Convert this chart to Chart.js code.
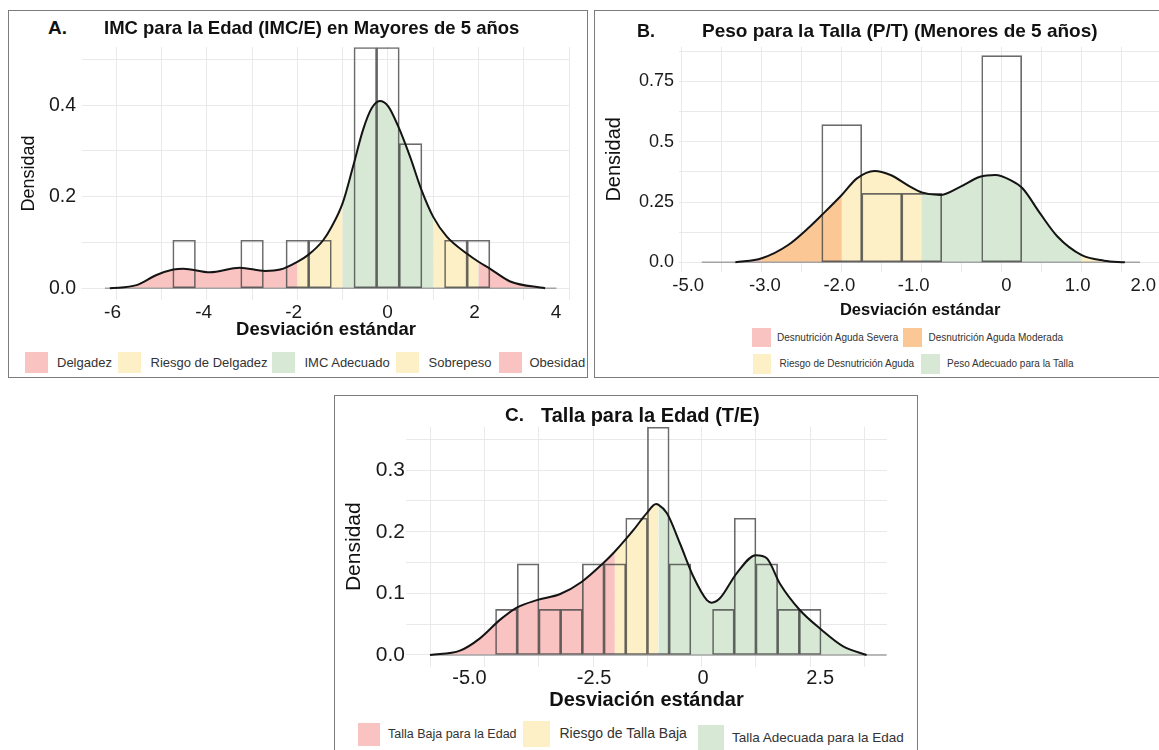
<!DOCTYPE html>
<html>
<head>
<meta charset="utf-8">
<script src="https://cdn.jsdelivr.net/npm/chart.js@4.4.1/dist/chart.umd.min.js"></script>
<style>
  body { margin: 0; width: 1159px; height: 750px; overflow: hidden; background: #fff; position: relative;
         font-family: "Liberation Sans", Arial, sans-serif; }
  .box { position: absolute; border: 1.5px solid #7c7c7c; box-sizing: border-box; }
  .t { position: absolute; white-space: nowrap; color: #111; line-height: 1.2; }
  .b { font-weight: bold; }
  .lg { position: absolute; white-space: nowrap; color: #333; line-height: 1.2; }
  .sw { position: absolute; }
  canvas { position: absolute; }
</style>
</head>
<body>

<div class="box" style="left:8px;top:10px;width:580px;height:368px"></div>
<div class="box" style="left:594px;top:10px;width:600px;height:368px"></div>
<div class="box" style="left:334px;top:395px;width:584px;height:400px"></div>

<canvas id="chartA" width="575" height="305" style="left:10px;top:40px"></canvas>
<canvas id="chartB" width="575" height="283" style="left:596px;top:40px"></canvas>
<canvas id="chartC" width="575" height="298" style="left:336px;top:420px"></canvas>

<div class="t b" style="left:48px;top:17px;font-size:19px">A.</div>
<div class="t b" style="left:104px;top:17px;font-size:18.5px">IMC para la Edad (IMC/E) en Mayores de 5 años</div>
<div class="t b" style="left:637px;top:21px;font-size:18px">B.</div>
<div class="t b" style="left:702px;top:20px;font-size:19px">Peso para la Talla (P/T) (Menores de 5 años)</div>
<div class="t b" style="left:505px;top:404px;font-size:19px">C.</div>
<div class="t b" style="left:541px;top:403px;font-size:20px">Talla para la Edad (T/E)</div>

<div id="legends"></div>

<script>
// colours of the classification bands
const RED = '#f8c3c1', YEL = '#fdf0c6', GRN = '#d7e9d5', ORA = '#fac795';

// ---------- A. IMC para la Edad ----------
const aBinX = [-4.5, -3, -2, -1.5, -0.5, 0, 0.5, 1.5, 2];
const aBinY = [0.105, 0.105, 0.105, 0.105, 0.526, 0.526, 0.316, 0.105, 0.105];
const aDensX = [-6.14, -5.55, -5.11, -4.74, -4.52, -3.93, -3.27, -2.71, -2.38, -2.0, -1.76, -1.43, -1.24, -1.0,
                -0.77, -0.55, -0.36, -0.18, 0.01, 0.23, 0.49, 0.74, 1.0, 1.3, 1.74, 2.0, 2.25, 2.7, 3.47];
const aDensY = [0, 0.007, 0.029, 0.041, 0.043, 0.035, 0.045, 0.038, 0.041, 0.058, 0.073, 0.105, 0.135, 0.186,
                0.266, 0.346, 0.393, 0.409, 0.397, 0.353, 0.287, 0.215, 0.156, 0.113, 0.076, 0.058, 0.043, 0.015, 0];
const aCuts = [-2, -1, 1, 2];
const aColors = [RED, YEL, GRN, YEL, RED];
const aLegend = ['Delgadez', 'Riesgo de Delgadez', 'IMC Adecuado', 'Sobrepeso', 'Obesidad'];
const aBase = [-6.25, 3.72];
const aXLabPos = [-6.08, -4.07, -2.08, -0.01, 1.91, 3.71];
const aXLabText = ['-6', '-4', '-2', '0', '2', '4'];
const aYLabVal = [0, 0.2, 0.4];
const aYLabText = ['0.0', '0.2', '0.4'];

// ---------- B. Peso para la Talla ----------
const bBinX = [-2, -1.5, -1, 0];
const bBinY = [0.571, 0.286, 0.286, 0.857];
const bDensX = [-3.33, -3.0, -2.67, -2.4, -2.25, -2.0, -1.81, -1.59, -1.39, -1.14, -1.0, -0.77, -0.52, -0.27,
                -0.08, 0.11, 0.26, 0.48, 0.7, 1.0, 1.28, 1.54];
const bDensY = [0, 0.017, 0.072, 0.148, 0.196, 0.279, 0.348, 0.379, 0.362, 0.313, 0.29, 0.279, 0.313, 0.355,
                0.362, 0.341, 0.307, 0.203, 0.106, 0.03, 0.007, 0];
const bCuts = [-3, -2, -1, 1];
const bColors = [RED, ORA, YEL, GRN, YEL];
const bLegend = ['Desnutrición Aguda Severa', 'Desnutrición Aguda Moderada', 'Riesgo de Desnutrición Aguda', 'Peso Adecuado para la Talla'];
const bBase = [-3.75, 1.73];
const bXLabPos = [-3.92, -2.96, -2.03, -1.1, 0.06, 0.95, 1.77];
const bXLabText = ['-5.0', '-3.0', '-2.0', '-1.0', '0', '1.0', '2.0'];
const bYLabVal = [0, 0.25, 0.5, 0.75];
const bYLabText = ['0.0', '0.25', '0.5', '0.75'];

// ---------- C. Talla para la Edad ----------
const cBinX = [-4.5, -4, -3.5, -3, -2.5, -2, -1.5, -1, -0.5, 0.5, 1, 1.5, 2, 2.5];
const cBinY = [0.074, 0.148, 0.074, 0.074, 0.148, 0.148, 0.222, 0.370, 0.148, 0.074, 0.222, 0.148, 0.074, 0.074];
const cDensX = [-6.26, -5.57, -5.11, -4.65, -4.26, -3.8, -3.26, -2.76, -2.27, -2.0, -1.57, -1.27, -1.05, -1.0,
                -0.8, -0.5, -0.19, 0.12, 0.23, 0.42, 0.81, 1.25, 1.5, 1.8, 2.26, 2.76, 3.26, 3.8];
const cDensY = [0, 0.007, 0.027, 0.057, 0.077, 0.089, 0.099, 0.119, 0.149, 0.168, 0.203, 0.23, 0.245, 0.244,
                0.23, 0.181, 0.127, 0.089, 0.085, 0.092, 0.133, 0.162, 0.157, 0.116, 0.073, 0.041, 0.014, 0];
const cCuts = [-2, -1];
const cColors = [RED, YEL, GRN];
const cLegend = ['Talla Baja para la Edad', 'Riesgo de Talla Baja', 'Talla Adecuada para la Edad'];
const cBase = [-6.26, 4.26];
const cXLabPos = [-5.35, -2.48, 0.03, 2.73];
const cXLabText = ['-5.0', '-2.5', '0', '2.5'];
const cYLabVal = [0, 0.1, 0.2, 0.3];
const cYLabText = ['0.0', '0.1', '0.2', '0.3'];

Chart.defaults.font.family = '"Liberation Sans", Arial, sans-serif';
Chart.defaults.color = '#1a1a1a';

function pts(xs, ys) {
  return xs.map((x, i) => ({x: x, y: ys[i]}));
}

// keep the plot area exactly where the layout puts it
function noPad(s) {
  s.paddingLeft = 0; s.paddingRight = 0; s.paddingTop = 0; s.paddingBottom = 0;
}

function makeChart(id, d) {
  const zoneOf = x => {
    let i = 0;
    while (i < d.cuts.length && x > d.cuts[i]) i++;
    return d.colors[i];
  };
  const dens = pts(d.densX, d.densY);
  return new Chart(document.getElementById(id), {
    type: 'line',
    data: {
      datasets: [
        { data: dens, borderColor: '#141414', borderWidth: 2, pointRadius: 0, fill: false,
          cubicInterpolationMode: 'monotone', order: 0 },
        { type: 'bar', data: pts(d.binX, d.binY), backgroundColor: 'rgba(0,0,0,0)',
          borderColor: 'rgba(70,70,70,0.8)', borderWidth: 1, borderSkipped: false,
          barPercentage: 1, categoryPercentage: 1, order: 1 },
        { data: d.base.map(x => ({x: x, y: 0})), borderColor: '#a3a3a3', borderWidth: 1.5,
          pointRadius: 0, fill: false, order: 2 },
        { data: dens, borderColor: 'rgba(0,0,0,0)', borderWidth: 0, pointRadius: 0, fill: 'origin',
          backgroundColor: d.colors[0], cubicInterpolationMode: 'monotone', order: 3,
          segment: { backgroundColor: c => zoneOf((c.p0.parsed.x + c.p1.parsed.x) / 2) } }
      ]
    },
    options: {
      responsive: false,
      animation: false,
      layout: { padding: d.pad },
      plugins: { legend: { display: false }, tooltip: { enabled: false } },
      scales: {
        x: {
          type: 'linear', min: d.xMin, max: d.xMax, offset: false,
          ticks: { display: false, stepSize: d.xStep, includeBounds: false },
          grid: { color: '#e9e9e9', drawTicks: false, offset: false },
          border: { display: false },
          afterFit: s => { s.height = 0; noPad(s); }
        },
        xl: {
          type: 'linear', position: 'bottom', min: d.xMin, max: d.xMax, offset: false,
          grid: { display: false, drawTicks: false },
          border: { display: false },
          afterBuildTicks: s => { s.ticks = d.xLabPos.map(v => ({value: v})); },
          ticks: { autoSkip: false, maxRotation: 0, padding: d.xTickPad, color: '#1a1a1a',
                   font: { size: d.xTickSize }, callback: (v, i) => d.xLabText[i] },
          title: { display: true, text: 'Desviación estándar', color: '#111',
                   font: { size: d.xTitleSize, weight: 'bold' }, padding: { top: 0, bottom: d.xTitlePad } },
          afterFit: s => { s.height = d.xAxisH; noPad(s); }
        },
        y: {
          min: d.yMin, max: d.yMax,
          ticks: { stepSize: d.yStep, includeBounds: false, padding: d.yTickPad, color: '#1a1a1a',
                   font: { size: d.yTickSize },
                   callback: v => {
                     const k = d.yLabVal.findIndex(t => Math.abs(t - v) < 1e-6);
                     return k < 0 ? '' : d.yLabText[k];
                   } },
          grid: { color: '#e9e9e9', drawTicks: false },
          border: { display: false },
          title: { display: true, text: 'Densidad', color: '#111', font: { size: d.yTitleSize },
                   padding: { top: d.yTitlePad, bottom: 0 } },
          afterFit: s => { s.width = d.yAxisW; noPad(s); }
        }
      }
    }
  });
}

makeChart('chartA', {
  binX: aBinX, binY: aBinY, densX: aDensX, densY: aDensY, cuts: aCuts, colors: aColors, base: aBase,
  xLabPos: aXLabPos, xLabText: aXLabText, yLabVal: aYLabVal, yLabText: aYLabText,
  xMin: -6.755, xMax: 4.02, xStep: 1, yMin: -0.0255, yMax: 0.527, yStep: 0.1,
  pad: { left: 5, top: 7, right: 15, bottom: 0 },
  yAxisW: 67, xAxisH: 45, xTickSize: 19, xTickPad: 1, yTickSize: 19.5, yTickPad: 6,
  xTitleSize: 18.5, xTitlePad: 4, yTitleSize: 18, yTitlePad: 3
});

makeChart('chartB', {
  binX: bBinX, binY: bBinY, densX: bDensX, densY: bDensY, cuts: bCuts, colors: bColors, base: bBase,
  xLabPos: bXLabPos, xLabText: bXLabText, yLabVal: bYLabVal, yLabText: bYLabText,
  xMin: -4.035, xMax: 1.997, xStep: 0.5, yMin: -0.04, yMax: 0.894, yStep: 0.125,
  pad: { left: 4, top: 6.7, right: 9.6, bottom: 0 },
  yAxisW: 79, xAxisH: 51, xTickSize: 18.5, xTickPad: 3, yTickSize: 18, yTickPad: 5,
  xTitleSize: 16.5, xTitlePad: 3, yTitleSize: 20, yTitlePad: 2
});

makeChart('chartC', {
  binX: cBinX, binY: cBinY, densX: cDensX, densY: cDensY, cuts: cCuts, colors: cColors, base: cBase,
  xLabPos: cXLabPos, xLabText: cXLabText, yLabVal: cYLabVal, yLabText: cYLabText,
  xMin: -6.813, xMax: 4.27, xStep: 1.25, yMin: -0.019, yMax: 0.3706, yStep: 0.05,
  pad: { left: 2, top: 6.7, right: 24, bottom: 0 },
  yAxisW: 68, xAxisH: 51.3, xTickSize: 20, xTickPad: 0, yTickSize: 21, yTickPad: 1,
  xTitleSize: 20, xTitlePad: 6, yTitleSize: 21, yTitlePad: 4
});

// legends drawn as plain html swatches + labels
function addLegend(items) {
  const holder = document.getElementById('legends');
  items.forEach(it => {
    const sw = document.createElement('div');
    sw.className = 'sw';
    sw.style.cssText = 'left:' + it.sx + 'px;top:' + it.sy + 'px;width:' + it.sw + 'px;height:' + it.sh + 'px;background:' + it.color;
    holder.appendChild(sw);
    const tx = document.createElement('div');
    tx.className = 'lg';
    tx.style.cssText = 'left:' + it.tx + 'px;top:' + (it.ty - it.fs * 0.6) + 'px;font-size:' + it.fs + 'px';
    tx.textContent = it.text;
    holder.appendChild(tx);
  });
}

addLegend([
  { text: aLegend[0], color: aColors[0], sx: 25, sy: 352, sw: 23, sh: 21, tx: 57, ty: 363, fs: 13 },
  { text: aLegend[1], color: aColors[1], sx: 118, sy: 352, sw: 23, sh: 21, tx: 150.5, ty: 363, fs: 13 },
  { text: aLegend[2], color: aColors[2], sx: 272, sy: 352, sw: 23, sh: 21, tx: 304.5, ty: 363, fs: 13 },
  { text: aLegend[3], color: aColors[3], sx: 396, sy: 352, sw: 23, sh: 21, tx: 428.5, ty: 363, fs: 13 },
  { text: aLegend[4], color: aColors[4], sx: 498.5, sy: 352, sw: 23, sh: 21, tx: 529.5, ty: 363, fs: 13 },

  { text: bLegend[0], color: bColors[0], sx: 752, sy: 327.5, sw: 19, sh: 19, tx: 777, ty: 337.5, fs: 10 },
  { text: bLegend[1], color: bColors[1], sx: 903, sy: 327.5, sw: 19, sh: 19, tx: 928.5, ty: 337.5, fs: 10 },
  { text: bLegend[2], color: bColors[2], sx: 753, sy: 353.5, sw: 18, sh: 20, tx: 779.5, ty: 363.5, fs: 10 },
  { text: bLegend[3], color: bColors[3], sx: 921, sy: 353.5, sw: 19, sh: 20, tx: 947, ty: 363.5, fs: 10 },

  { text: cLegend[0], color: cColors[0], sx: 358, sy: 723, sw: 22, sh: 23, tx: 388, ty: 734, fs: 12.5 },
  { text: cLegend[1], color: cColors[1], sx: 523, sy: 721, sw: 27, sh: 26, tx: 559.5, ty: 733, fs: 14 },
  { text: cLegend[2], color: cColors[2], sx: 697.5, sy: 725, sw: 26, sh: 25, tx: 732, ty: 738.5, fs: 13.5 }
]);
</script>
</body>
</html>
